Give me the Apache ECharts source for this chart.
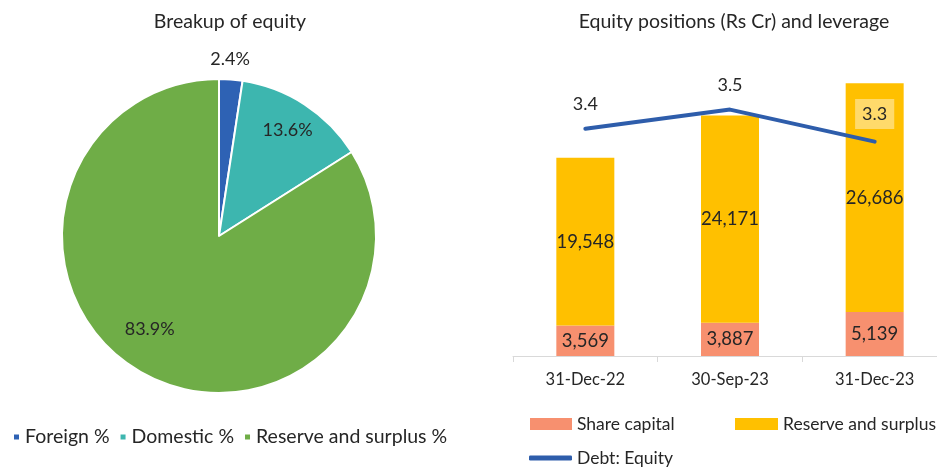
<!DOCTYPE html>
<html>
<head>
<meta charset="utf-8">
<script src="https://cdn.jsdelivr.net/npm/echarts@6/dist/echarts.min.js"></script>
<style>
  body { margin: 0; background: #fff; }
  #el { width: 937px; height: 468px; }
</style>
</head>
<body>
<div id="el"></div>
<script>
// pie: breakup of equity (%)
const pieNames = ['Foreign %', 'Domestic %', 'Reserve and surplus %']
const pieValues = [2.4, 13.6, 83.9]
// label nudges (dx, dy) from the default inside spot
const pieLabelShift = [[5, -96], [24, -38], [-30, 22]]

// bars + line: equity positions and leverage
const dates = ['31-Dec-22', '30-Sep-23', '31-Dec-23']
const shareCapital = [3569, 3887, 5139]
const reserveSurplus = [19548, 24171, 26686]
const debtEquity = [3.42, 3.54, 3.34]

const font = 'Lato, "Open Sans", sans-serif'
const txt = '#262626'
const legendText = { fontSize: 17.5, color: txt, fontFamily: font }

let mychart = echarts.init(document.getElementById('el'))
let option = {
    textStyle: { fontFamily: font },
    title: [
        { text: 'Breakup of equity', left: 225, top: 7, textAlign: 'center',
          textStyle: { fontSize: 19.5, fontWeight: 'normal', color: txt, fontFamily: font } },
        { text: 'Equity positions (Rs Cr) and leverage', left: 729, top: 7, textAlign: 'center',
          textStyle: { fontSize: 19.5, fontWeight: 'normal', color: txt, fontFamily: font } }
    ],
    legend: [
        {   // pie legend
            data: pieNames, left: 12, top: 427, padding: 0, icon: 'rect',
            itemWidth: 7, itemHeight: 7, itemGap: 9,
            textStyle: { fontSize: 19.5, color: txt, fontFamily: font }
        },
        {   // bar legend
            data: ['Share capital'], left: 530, top: 415, padding: 0,
            itemWidth: 42, itemHeight: 12, icon: 'rect', textStyle: legendText
        },
        {
            data: ['Reserve and surplus'], left: 735, top: 415, padding: 0, width: 220,
            itemWidth: 43, itemHeight: 12, icon: 'rect', textStyle: legendText
        },
        {   // line legend
            data: [{ name: 'Debt: Equity', icon: 'roundRect' }], left: 529, top: 449, padding: 0,
            itemWidth: 43, itemHeight: 5, textStyle: legendText
        }
    ],
    grid: { left: 513, width: 434, top: 56, bottom: 112, outerBoundsMode: 'none' },
    xAxis: {
        type: 'category',
        data: dates,
        axisLine: { lineStyle: { color: '#D9D9D9', width: 1 } },
        axisTick: { show: true, length: 6, lineStyle: { color: '#D9D9D9' } },
        axisLabel: { fontSize: 16.5, color: txt, margin: 15, fontFamily: font }
    },
    yAxis: [
        { type: 'value', min: 0, max: 35000, show: false, splitLine: { show: false } },
        { type: 'value', min: 2, max: 3.875, show: false, splitLine: { show: false } }
    ],
    series: [
        {
            type: 'pie',
            center: [219, 236],
            radius: 157,
            startAngle: 90,
            clockwise: true,
            itemStyle: { borderColor: '#fff', borderWidth: 2 },
            label: { position: 'inside', fontSize: 18, color: txt, fontFamily: font,
                     formatter: p => p.value.toFixed(1) + '%' },
            labelLayout: p => ({ dx: pieLabelShift[p.dataIndex][0], dy: pieLabelShift[p.dataIndex][1] }),
            emphasis: { disabled: true },
            data: pieNames.map((n, i) => ({ name: n, value: pieValues[i] })),
            color: ['#2E62B4', '#3DB6AF', '#6FAD47']
        },
        {
            name: 'Share capital', type: 'bar', stack: 'eq', barWidth: 58,
            itemStyle: { color: '#F7906F' },
            label: { show: true, position: 'inside', fontSize: 18.5, color: txt, fontFamily: font,
                     formatter: p => p.value.toLocaleString('en-US') },
            data: shareCapital
        },
        {
            name: 'Reserve and surplus', type: 'bar', stack: 'eq', barWidth: 58,
            itemStyle: { color: '#FFC000' },
            label: { show: true, position: 'inside', fontSize: 18.5, color: txt, fontFamily: font,
                     formatter: p => p.value.toLocaleString('en-US') },
            data: reserveSurplus
        },
        {
            name: 'Debt: Equity', type: 'line', yAxisIndex: 1,
            symbol: 'circle', symbolSize: 1, showSymbol: true,
            lineStyle: { color: '#2E5DAB', width: 4, cap: 'round' },
            itemStyle: { color: '#2E5DAB' },
            label: { show: true, position: 'top', distance: 15, fontSize: 18, color: txt, fontFamily: font,
                     formatter: p => p.value.toFixed(1) },
            data: debtEquity.map((v, i) => i === 2
                ? { value: v, label: { backgroundColor: '#FFDA6B', padding: [6, 7], distance: 12 } }
                : v)
        }
    ]
}
option && mychart.setOption(option)
</script>
</body>
</html>
